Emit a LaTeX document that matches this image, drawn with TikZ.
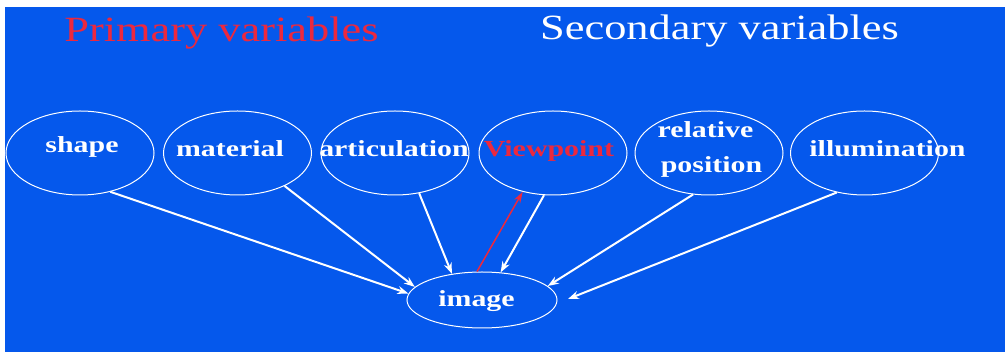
\documentclass[tikz,border=0pt]{standalone}
\usepackage{fontspec}
\usepackage{graphicx}
\usetikzlibrary{shapes.geometric,arrows.meta}
\newfontfamily\serifface{Liberation Serif}
\definecolor{slideblue}{RGB}{5,88,236}
\definecolor{slidered}{RGB}{236,40,62}
\newcommand{\titletext}[1]{\scalebox{1.25}[1]{\serifface\fontsize{35.5}{37}\selectfont #1}}
\newcommand{\labeltext}[1]{\scalebox{1.3}[1]{\serifface\bfseries\fontsize{23}{25}\selectfont #1}}
\tikzset{
  varnode/.style={ellipse, draw=white, line width=1pt, minimum width=148pt,
    minimum height=84pt, inner sep=0pt},
  imgnode/.style={ellipse, draw=white, line width=1pt, minimum width=150pt,
    minimum height=56pt, inner sep=0pt},
  lbl/.style={anchor=base, inner sep=0pt, text=white},
  ttl/.style={anchor=base, inner sep=0pt},
  link/.style={draw=white, line width=2pt, -{Stealth[length=11pt,width=8pt]}},
  backlink/.style={draw=slidered, line width=1.5pt, -{Stealth[length=11pt,width=7pt]}}
}
\begin{document}
\begin{tikzpicture}[x=1pt,y=-1pt]
  % page and slide background
  \useasboundingbox (0,0) rectangle (1005,352);
  \fill[white] (0,0) rectangle (1005,352);
  \fill[slideblue] (5,7) rectangle (1005,352);

  % headings
  \node[ttl, text=slidered] (primary) at (221.5,42) {\titletext{Primary variables}};
  \node[ttl, text=white] (secondary) at (719.5,40) {\titletext{Secondary variables}};

  % variable ellipses
  \node[varnode] (shape) at (80,153) {};
  \node[varnode] (material) at (237.5,153) {};
  \node[varnode] (articulation) at (395,153) {};
  \node[varnode] (viewpoint) at (553,153) {};
  \node[varnode] (relpos) at (709,153) {};
  \node[varnode] (illum) at (864.5,153) {};
  \node[imgnode] (image) at (482,300) {};

  % free end of the illumination arrow
  \coordinate (illumend) at (568,299);

  % connectors into the image
  \draw[link] (shape.-52) -- (image.175);
  \draw[link] (material.-35) -- (image.169);
  \draw[link] (articulation.-59) -- (image.139);
  \draw[link] (viewpoint.-102) -- (image.56);
  \draw[link] (relpos.-111) -- (image.12);
  \draw[link] (illum.-125) -- (illumend);
  \draw[backlink] (image.100) -- (viewpoint.-128);

  % labels
  \node[lbl] (shape-t) at (82,153) {\labeltext{shape}};
  \node[lbl] (material-t) at (230,157) {\labeltext{material}};
  \node[lbl] (articulation-t) at (394,157) {\labeltext{articulation}};
  \node[lbl, text=slidered] (viewpoint-t) at (549,157) {\labeltext{Viewpoint}};
  \node[lbl] (relpos-t1) at (705.5,138) {\labeltext{relative}};
  \node[lbl] (relpos-t2) at (711.5,173) {\labeltext{position}};
  \node[lbl] (illum-t) at (887.5,157) {\labeltext{illumination}};
  \node[lbl] (image-t) at (476.5,307) {\labeltext{image}};
\end{tikzpicture}
\end{document}
